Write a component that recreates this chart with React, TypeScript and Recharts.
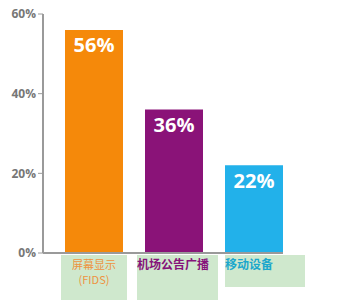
import { BarChart, Bar, XAxis, YAxis, Cell, LabelList } from 'recharts';

const categories = ['屏幕显示(FIDS)', '机场公告广播', '移动设备'];
const shares = [56, 36, 22];
const yTicks = [0, 20, 40, 60];

const barColors = ['#f5890a', '#8a1378', '#22b1ea'];
const labelColors = ['#ee9340', '#86137a', '#1ca7cc'];
// label box offsets relative to the tick centre: [left, width, height]
const boxes = [
  [-33, 66, 45],
  [-37, 81, 45],
  [-29, 80, 32],
];

const data = categories.map((c, i) => ({ name: c, value: shares[i] }));

const CategoryTick = ({ x, y, payload }: any) => {
  const i = payload.index;
  const [dx, w, h] = boxes[i];
  const top = y - 6;
  return (
    <g>
      <rect x={x + dx} y={top} width={w} height={h} fill="#cfe8cd" />
      {i === 0 ? (
        <text textAnchor="middle" fontSize={11} fill={labelColors[i]} fontFamily="Noto Sans CJK SC">
          <tspan x={x} y={top + 14}>屏幕显示</tspan>
          <tspan x={x} y={top + 29}>(FIDS)</tspan>
        </text>
      ) : (
        <text x={x + dx} y={top + 14} fontSize={12} fontWeight="bold" fill={labelColors[i]} fontFamily="Noto Sans CJK SC">
          {payload.value}
        </text>
      )}
    </g>
  );
};

export default function App() {
  return (
    <div style={{ position: 'absolute', left: 0, top: 0, background: '#fff' }}>
      <BarChart width={357} height={308} data={data} margin={{ top: 14, right: 74, left: 0, bottom: 5 }}>
        <XAxis
          dataKey="name"
          height={50}
          padding={{ left: 11, right: -11 }}
          axisLine={{ stroke: '#9a9a9a', strokeWidth: 2 }}
          tickLine={false}
          interval={0}
          tick={<CategoryTick />}
        />
        <YAxis
          width={43}
          domain={[0, 60]}
          ticks={yTicks}
          tickFormatter={(v) => `${v}%`}
          axisLine={{ stroke: '#9a9a9a', strokeWidth: 2 }}
          tickLine={{ stroke: '#9a9a9a' }}
          tickSize={5}
          tick={{ fill: '#777', fontSize: 12, fontWeight: 'bold', fontFamily: 'Open Sans' }}
        />
        <Bar dataKey="value" barSize={58} isAnimationActive={false}>
          {data.map((d, i) => (
            <Cell key={d.name} fill={barColors[i]} />
          ))}
          <LabelList
            dataKey="value"
            position="insideTop"
            offset={8}
            formatter={(v: any) => `${v}%`}
            fill="#fff"
            fontSize={20}
            fontWeight="bold"
            fontFamily="Open Sans"
          />
        </Bar>
      </BarChart>
    </div>
  );
}
